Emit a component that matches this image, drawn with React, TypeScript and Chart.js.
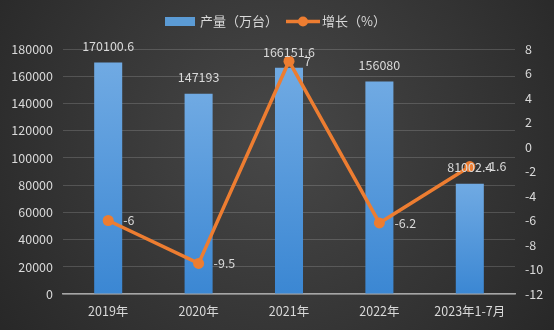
import React, { useEffect, useRef } from "react";
import { Chart, registerables } from "chart.js";

Chart.register(...registerables);

const categories = ["2019年", "2020年", "2021年", "2022年", "2023年1-7月"];
const production = [170100.6, 147193, 166151.6, 156080, 81002.4];
const growth = [-6, -9.5, 7, -6.2, -1.6];
const productionLabel = "产量（万台）";
const growthLabel = "增长（%）";

const FONT = '"Microsoft YaHei", "Noto Sans CJK SC", "Noto Sans", sans-serif';
const TEXT = "#d9d9d9";
const BLUE = "#5b9bd5";
const ORANGE = "#ed7d31";

const bgPlugin = {
  id: "bg",
  beforeDraw(chart: any) {
    const { ctx, width, height } = chart;
    ctx.save();
    const g = ctx.createRadialGradient(width / 2, height * 0.42, 0, width / 2, height * 0.42, width * 0.62);
    g.addColorStop(0, "#484848");
    g.addColorStop(1, "#272727");
    ctx.fillStyle = g;
    ctx.fillRect(0, 0, width, height);
    ctx.restore();
  },
};

const labelPlugin = {
  id: "valueLabels",
  afterDatasetsDraw(chart: any) {
    const { ctx } = chart;
    ctx.save();
    ctx.font = `12.5px ${FONT}`;
    ctx.fillStyle = TEXT;
    ctx.textBaseline = "middle";
    const barMeta = chart.getDatasetMeta(0);
    barMeta.data.forEach((el: any, i: number) => {
      ctx.textAlign = "center";
      ctx.fillText(String(production[i]), el.x, el.y - 16);
    });
    const lineMeta = chart.getDatasetMeta(1);
    lineMeta.data.forEach((el: any, i: number) => {
      ctx.textAlign = "left";
      ctx.fillText(String(growth[i]), el.x + 15, el.y);
    });
    ctx.restore();
  },
};

const legendPlugin = {
  id: "customLegend",
  afterDraw(chart: any) {
    const { ctx } = chart;
    ctx.save();
    const cy = 21.5;
    ctx.fillStyle = BLUE;
    ctx.fillRect(165, 17, 30, 9);
    ctx.font = `13px ${FONT}`;
    ctx.fillStyle = TEXT;
    ctx.textBaseline = "middle";
    ctx.textAlign = "left";
    ctx.fillText(productionLabel, 200, cy);
    ctx.strokeStyle = ORANGE;
    ctx.lineWidth = 3.5;
    ctx.beginPath();
    ctx.moveTo(286, cy);
    ctx.lineTo(320, cy);
    ctx.stroke();
    ctx.fillStyle = ORANGE;
    ctx.beginPath();
    ctx.arc(303, cy, 5, 0, Math.PI * 2);
    ctx.fill();
    ctx.fillStyle = TEXT;
    ctx.fillText(growthLabel, 322, cy);
    ctx.restore();
  },
};

export default function App() {
  const ref = useRef<HTMLCanvasElement | null>(null);

  useEffect(() => {
    if (!ref.current) return;
    const tickFont = { size: 12.5, family: FONT };
    const chart = new Chart(ref.current, {
      type: "bar",
      data: {
        labels: categories,
        datasets: [
          {
            type: "bar",
            label: productionLabel,
            data: production,
            yAxisID: "y",
            order: 1,
            barPercentage: 0.31,
            categoryPercentage: 1,
            backgroundColor: (c: any) => {
              const ch = c.chart;
              if (!ch.chartArea || c.type !== "data") return BLUE;
              const ys = ch.scales.y;
              const top = ys.getPixelForValue(c.raw);
              const bottom = ys.getPixelForValue(0);
              const g = ch.ctx.createLinearGradient(0, top, 0, bottom);
              g.addColorStop(0, "#70aae3");
              g.addColorStop(1, "#3b87d3");
              return g;
            },
          },
          {
            type: "line",
            label: growthLabel,
            data: growth,
            yAxisID: "y1",
            order: 0,
            borderColor: ORANGE,
            backgroundColor: ORANGE,
            borderWidth: 3.5,
            pointRadius: 5.5,
            pointBackgroundColor: ORANGE,
            pointBorderColor: ORANGE,
            pointBorderWidth: 0,
            tension: 0,
          } as any,
        ],
      },
      options: {
        animation: false,
        responsive: false,
        layout: { padding: { top: 49, left: 0, right: 0, bottom: 0 } },
        plugins: {
          legend: { display: false },
          tooltip: { enabled: false },
        },
        scales: {
          x: {
            grid: { display: false, drawTicks: false },
            border: { display: true, color: "#a6a6a6", width: 1.5 },
            ticks: { color: TEXT, font: tickFont, padding: 10, maxRotation: 0 },
            afterFit: (s: any) => {
              s.height = 36;
            },
          },
          y: {
            position: "left",
            min: 0,
            max: 180000,
            ticks: {
              stepSize: 20000,
              color: TEXT,
              font: tickFont,
              padding: 10,
              callback: (v: any) => String(v),
            },
            grid: { color: "rgba(255,255,255,0.16)", lineWidth: 1, drawTicks: false },
            border: { display: false },
            afterFit: (s: any) => {
              s.width = 63;
            },
          },
          y1: {
            position: "right",
            min: -12,
            max: 8,
            ticks: {
              stepSize: 2,
              color: TEXT,
              font: tickFont,
              padding: 10,
              callback: (v: any) => String(v),
            },
            grid: { display: false, drawTicks: false },
            border: { display: false },
            afterFit: (s: any) => {
              s.width = 39;
            },
          },
        },
      } as any,
      plugins: [bgPlugin, labelPlugin, legendPlugin],
    });
    return () => chart.destroy();
  }, []);

  return (
    <div style={{ position: "fixed", left: 0, top: 0, width: 554, height: 333, background: "#ffffff" }}>
      <canvas ref={ref} width={554} height={330} style={{ display: "block", width: 554, height: 330 }} />
    </div>
  );
}
